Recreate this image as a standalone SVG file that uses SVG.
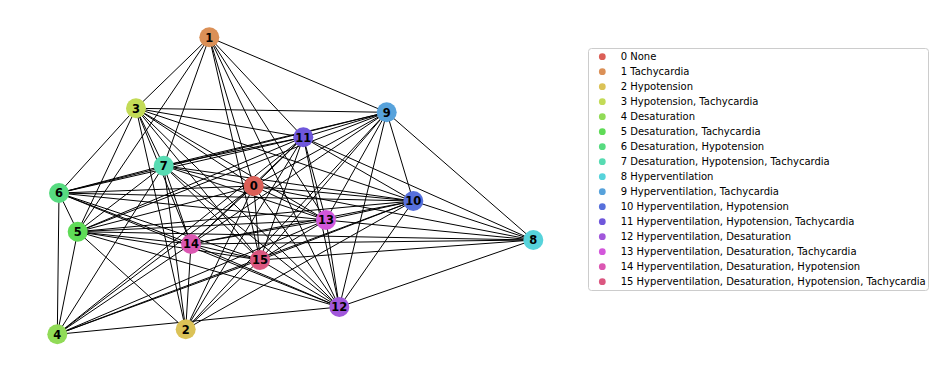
<svg xmlns="http://www.w3.org/2000/svg" width="935" height="374" viewBox="0 0 935 374">
<style>
.e line{stroke:#000;stroke-width:1}
.n text{font-family:"DejaVu Sans","Liberation Sans",sans-serif;font-weight:bold;font-size:11.5px;text-anchor:middle;fill:#000}
.lg text{font-family:"DejaVu Sans","Liberation Sans",sans-serif;font-size:10px;fill:#000}
</style>
<rect width="935" height="374" fill="#fff"/>
<g id="connectors" class="e">
<line x1="209.3" y1="37.3" x2="136" y2="108.3"/>
<line x1="209.3" y1="37.3" x2="77.7" y2="231.7"/>
<line x1="209.3" y1="37.3" x2="163.7" y2="165.7"/>
<line x1="209.3" y1="37.3" x2="253.7" y2="186"/>
<line x1="209.3" y1="37.3" x2="260" y2="260"/>
<line x1="209.3" y1="37.3" x2="339.3" y2="307"/>
<line x1="209.3" y1="37.3" x2="326" y2="220"/>
<line x1="209.3" y1="37.3" x2="386.7" y2="112.3"/>
<line x1="209.3" y1="37.3" x2="303.3" y2="137.3"/>
<line x1="136" y1="108.3" x2="59" y2="193"/>
<line x1="136" y1="108.3" x2="77.7" y2="231.7"/>
<line x1="136" y1="108.3" x2="163.7" y2="165.7"/>
<line x1="136" y1="108.3" x2="191" y2="244"/>
<line x1="136" y1="108.3" x2="185.7" y2="329.3"/>
<line x1="136" y1="108.3" x2="260" y2="260"/>
<line x1="136" y1="108.3" x2="253.7" y2="186"/>
<line x1="136" y1="108.3" x2="326" y2="220"/>
<line x1="136" y1="108.3" x2="339.3" y2="307"/>
<line x1="136" y1="108.3" x2="413.3" y2="201"/>
<line x1="136" y1="108.3" x2="303.3" y2="137.3"/>
<line x1="136" y1="108.3" x2="386.7" y2="112.3"/>
<line x1="59" y1="193" x2="163.7" y2="165.7"/>
<line x1="59" y1="193" x2="303.3" y2="137.3"/>
<line x1="59" y1="193" x2="386.7" y2="112.3"/>
<line x1="59" y1="193" x2="253.7" y2="186"/>
<line x1="59" y1="193" x2="413.3" y2="201"/>
<line x1="59" y1="193" x2="326" y2="220"/>
<line x1="59" y1="193" x2="191" y2="244"/>
<line x1="59" y1="193" x2="260" y2="260"/>
<line x1="59" y1="193" x2="339.3" y2="307"/>
<line x1="59" y1="193" x2="77.7" y2="231.7"/>
<line x1="59" y1="193" x2="57.3" y2="334.3"/>
<line x1="77.7" y1="231.7" x2="57.3" y2="334.3"/>
<line x1="77.7" y1="231.7" x2="185.7" y2="329.3"/>
<line x1="77.7" y1="231.7" x2="163.7" y2="165.7"/>
<line x1="77.7" y1="231.7" x2="303.3" y2="137.3"/>
<line x1="77.7" y1="231.7" x2="386.7" y2="112.3"/>
<line x1="77.7" y1="231.7" x2="253.7" y2="186"/>
<line x1="77.7" y1="231.7" x2="413.3" y2="201"/>
<line x1="77.7" y1="231.7" x2="326" y2="220"/>
<line x1="77.7" y1="231.7" x2="191" y2="244"/>
<line x1="77.7" y1="231.7" x2="260" y2="260"/>
<line x1="77.7" y1="231.7" x2="339.3" y2="307"/>
<line x1="77.7" y1="231.7" x2="533.3" y2="240"/>
<line x1="57.3" y1="334.3" x2="163.7" y2="165.7"/>
<line x1="57.3" y1="334.3" x2="303.3" y2="137.3"/>
<line x1="57.3" y1="334.3" x2="253.7" y2="186"/>
<line x1="57.3" y1="334.3" x2="191" y2="244"/>
<line x1="57.3" y1="334.3" x2="326" y2="220"/>
<line x1="57.3" y1="334.3" x2="413.3" y2="201"/>
<line x1="57.3" y1="334.3" x2="260" y2="260"/>
<line x1="57.3" y1="334.3" x2="339.3" y2="307"/>
<line x1="163.7" y1="165.7" x2="185.7" y2="329.3"/>
<line x1="163.7" y1="165.7" x2="191" y2="244"/>
<line x1="163.7" y1="165.7" x2="253.7" y2="186"/>
<line x1="163.7" y1="165.7" x2="260" y2="260"/>
<line x1="163.7" y1="165.7" x2="326" y2="220"/>
<line x1="163.7" y1="165.7" x2="339.3" y2="307"/>
<line x1="163.7" y1="165.7" x2="303.3" y2="137.3"/>
<line x1="163.7" y1="165.7" x2="413.3" y2="201"/>
<line x1="163.7" y1="165.7" x2="386.7" y2="112.3"/>
<line x1="185.7" y1="329.3" x2="191" y2="244"/>
<line x1="185.7" y1="329.3" x2="253.7" y2="186"/>
<line x1="185.7" y1="329.3" x2="303.3" y2="137.3"/>
<line x1="185.7" y1="329.3" x2="260" y2="260"/>
<line x1="185.7" y1="329.3" x2="413.3" y2="201"/>
<line x1="185.7" y1="329.3" x2="386.7" y2="112.3"/>
<line x1="191" y1="244" x2="260" y2="260"/>
<line x1="191" y1="244" x2="339.3" y2="307"/>
<line x1="191" y1="244" x2="326" y2="220"/>
<line x1="191" y1="244" x2="413.3" y2="201"/>
<line x1="191" y1="244" x2="533.3" y2="240"/>
<line x1="191" y1="244" x2="386.7" y2="112.3"/>
<line x1="191" y1="244" x2="303.3" y2="137.3"/>
<line x1="191" y1="244" x2="253.7" y2="186"/>
<line x1="253.7" y1="186" x2="260" y2="260"/>
<line x1="253.7" y1="186" x2="339.3" y2="307"/>
<line x1="253.7" y1="186" x2="326" y2="220"/>
<line x1="253.7" y1="186" x2="413.3" y2="201"/>
<line x1="253.7" y1="186" x2="533.3" y2="240"/>
<line x1="253.7" y1="186" x2="386.7" y2="112.3"/>
<line x1="253.7" y1="186" x2="303.3" y2="137.3"/>
<line x1="260" y1="260" x2="303.3" y2="137.3"/>
<line x1="260" y1="260" x2="386.7" y2="112.3"/>
<line x1="260" y1="260" x2="413.3" y2="201"/>
<line x1="260" y1="260" x2="339.3" y2="307"/>
<line x1="260" y1="260" x2="533.3" y2="240"/>
<line x1="260" y1="260" x2="326" y2="220"/>
<line x1="326" y1="220" x2="303.3" y2="137.3"/>
<line x1="326" y1="220" x2="386.7" y2="112.3"/>
<line x1="326" y1="220" x2="413.3" y2="201"/>
<line x1="326" y1="220" x2="339.3" y2="307"/>
<line x1="326" y1="220" x2="533.3" y2="240"/>
<line x1="413.3" y1="201" x2="386.7" y2="112.3"/>
<line x1="413.3" y1="201" x2="303.3" y2="137.3"/>
<line x1="413.3" y1="201" x2="339.3" y2="307"/>
<line x1="413.3" y1="201" x2="533.3" y2="240"/>
<line x1="303.3" y1="137.3" x2="339.3" y2="307"/>
<line x1="303.3" y1="137.3" x2="386.7" y2="112.3"/>
<line x1="303.3" y1="137.3" x2="533.3" y2="240"/>
<line x1="339.3" y1="307" x2="386.7" y2="112.3"/>
<line x1="339.3" y1="307" x2="533.3" y2="240"/>
<line x1="386.7" y1="112.3" x2="533.3" y2="240"/>
</g>
<g id="node-0" class="n"><circle cx="253.7" cy="186" r="10" fill="#db5f57"/><text x="253.7" y="190.2">0</text></g>
<g id="node-1" class="n"><circle cx="209.3" cy="37.3" r="10" fill="#db9057"/><text x="209.3" y="41.5">1</text></g>
<g id="node-2" class="n"><circle cx="185.7" cy="329.3" r="10" fill="#dbc257"/><text x="185.7" y="333.5">2</text></g>
<g id="node-3" class="n"><circle cx="136" cy="108.3" r="10" fill="#c3db57"/><text x="136" y="112.5">3</text></g>
<g id="node-4" class="n"><circle cx="57.3" cy="334.3" r="10" fill="#91db57"/><text x="57.3" y="338.5">4</text></g>
<g id="node-5" class="n"><circle cx="77.7" cy="231.7" r="10" fill="#5fdb57"/><text x="77.7" y="235.9">5</text></g>
<g id="node-6" class="n"><circle cx="59" cy="193" r="10" fill="#57db80"/><text x="59" y="197.2">6</text></g>
<g id="node-7" class="n"><circle cx="163.7" cy="165.7" r="10" fill="#57dbb2"/><text x="163.7" y="169.9">7</text></g>
<g id="node-8" class="n"><circle cx="533.3" cy="240" r="10" fill="#57d3db"/><text x="533.3" y="244.2">8</text></g>
<g id="node-9" class="n"><circle cx="386.7" cy="112.3" r="10" fill="#57a2db"/><text x="386.7" y="116.5">9</text></g>
<g id="node-10" class="n"><circle cx="413.3" cy="201" r="10" fill="#5770db"/><text x="413.3" y="205.2">10</text></g>
<g id="node-11" class="n"><circle cx="303.3" cy="137.3" r="10" fill="#6f57db"/><text x="303.3" y="141.5">11</text></g>
<g id="node-12" class="n"><circle cx="339.3" cy="307" r="10" fill="#a157db"/><text x="339.3" y="311.2">12</text></g>
<g id="node-13" class="n"><circle cx="326" cy="220" r="10" fill="#d357db"/><text x="326" y="224.2">13</text></g>
<g id="node-14" class="n"><circle cx="191" cy="244" r="10" fill="#db57b2"/><text x="191" y="248.2">14</text></g>
<g id="node-15" class="n"><circle cx="260" cy="260" r="10" fill="#db5780"/><text x="260" y="264.2">15</text></g>
<g id="legend" class="lg">
<rect x="588.5" y="48.5" width="340" height="242" rx="3" fill="#fff" stroke="#cccccc" stroke-width="1"/>
<circle cx="602.3" cy="56.7" r="3.4" fill="#db5f57"/><text x="620.7" y="60.3">0 None</text>
<circle cx="602.3" cy="71.7" r="3.4" fill="#db9057"/><text x="620.7" y="75.3">1 Tachycardia</text>
<circle cx="602.3" cy="86.7" r="3.4" fill="#dbc257"/><text x="620.7" y="90.3">2 Hypotension</text>
<circle cx="602.3" cy="101.7" r="3.4" fill="#c3db57"/><text x="620.7" y="105.3">3 Hypotension, Tachycardia</text>
<circle cx="602.3" cy="116.7" r="3.4" fill="#91db57"/><text x="620.7" y="120.3">4 Desaturation</text>
<circle cx="602.3" cy="131.7" r="3.4" fill="#5fdb57"/><text x="620.7" y="135.3">5 Desaturation, Tachycardia</text>
<circle cx="602.3" cy="146.7" r="3.4" fill="#57db80"/><text x="620.7" y="150.3">6 Desaturation, Hypotension</text>
<circle cx="602.3" cy="161.7" r="3.4" fill="#57dbb2"/><text x="620.7" y="165.3">7 Desaturation, Hypotension, Tachycardia</text>
<circle cx="602.3" cy="176.7" r="3.4" fill="#57d3db"/><text x="620.7" y="180.3">8 Hyperventilation</text>
<circle cx="602.3" cy="191.7" r="3.4" fill="#57a2db"/><text x="620.7" y="195.3">9 Hyperventilation, Tachycardia</text>
<circle cx="602.3" cy="206.7" r="3.4" fill="#5770db"/><text x="620.7" y="210.3">10 Hyperventilation, Hypotension</text>
<circle cx="602.3" cy="221.7" r="3.4" fill="#6f57db"/><text x="620.7" y="225.3">11 Hyperventilation, Hypotension, Tachycardia</text>
<circle cx="602.3" cy="236.7" r="3.4" fill="#a157db"/><text x="620.7" y="240.3">12 Hyperventilation, Desaturation</text>
<circle cx="602.3" cy="251.7" r="3.4" fill="#d357db"/><text x="620.7" y="255.3">13 Hyperventilation, Desaturation, Tachycardia</text>
<circle cx="602.3" cy="266.7" r="3.4" fill="#db57b2"/><text x="620.7" y="270.3">14 Hyperventilation, Desaturation, Hypotension</text>
<circle cx="602.3" cy="281.7" r="3.4" fill="#db5780"/><text x="620.7" y="285.3">15 Hyperventilation, Desaturation, Hypotension, Tachycardia</text>
</g>
</svg>
